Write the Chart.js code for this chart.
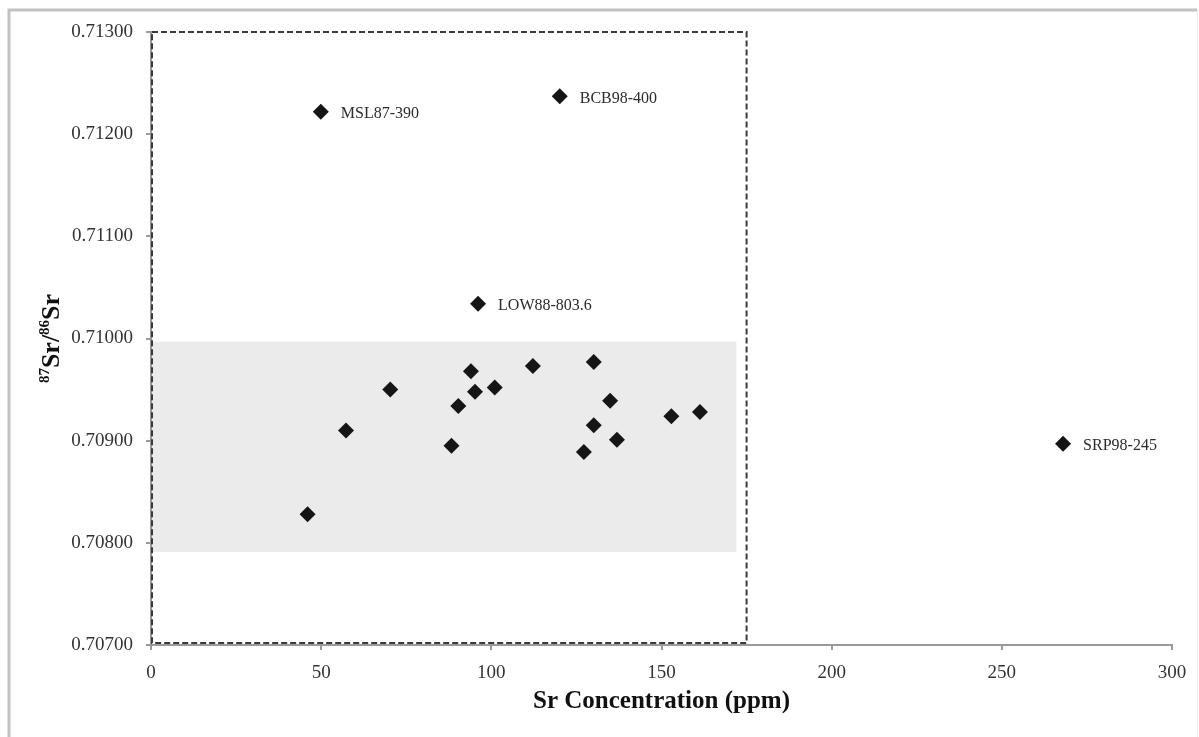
<!DOCTYPE html>
<html>
<head>
<meta charset="utf-8">
<script src="https://cdn.jsdelivr.net/npm/chart.js@4"></script>
<style>
  html, body { margin: 0; padding: 0; background: #fff; }
  #wrap { width: 1199px; height: 737px; }
</style>
</head>
<body>
<div id="wrap"><canvas id="srChart"></canvas></div>
<script>
// Sr concentration (ppm) and 87Sr/86Sr for the unlabelled samples
const srConc = [46.0, 57.3, 70.3, 88.3, 90.3, 94.0, 95.2, 101.0, 112.2, 127.2, 130.1, 130.1, 134.9, 136.9, 152.9, 161.3];
const srRatio = [0.70828, 0.70910, 0.70950, 0.70895, 0.70934, 0.70968, 0.70948, 0.70952, 0.70973, 0.70889, 0.70977, 0.70915, 0.70939, 0.70901, 0.70924, 0.70928];

// labelled outliers
const sampleNames = ['MSL87-390', 'BCB98-400', 'LOW88-803.6', 'SRP98-245'];
const sampleConc = [49.9, 120.1, 96.1, 268.0];
const sampleRatio = [0.71222, 0.71237, 0.71034, 0.70897];

// grey seawater band and dashed box
const bandX = [0, 172];
const bandY = [0.70791, 0.70997];
const boxX = [0, 175];
const boxY = [0.707, 0.713];

const xTicks = [0, 50, 100, 150, 200, 250, 300];
const yTicks = [0.707, 0.708, 0.709, 0.710, 0.711, 0.712, 0.713];

const serif = "'Liberation Serif', 'Times New Roman', serif";

const backdrop = {
  id: 'backdrop',
  beforeDraw(chart) {
    const ctx = chart.ctx;
    const x = chart.scales.x, y = chart.scales.y;
    ctx.save();
    // outer frame
    ctx.strokeStyle = '#c2c2c2';
    ctx.lineWidth = 3;
    ctx.beginPath();
    ctx.moveTo(9, 737);
    ctx.lineTo(9, 10);
    ctx.lineTo(1197, 10);
    ctx.stroke();
    ctx.strokeStyle = '#ececec';
    ctx.lineWidth = 1;
    ctx.beginPath();
    ctx.moveTo(1197.5, 10);
    ctx.lineTo(1197.5, 737);
    ctx.stroke();
    // grey band
    ctx.fillStyle = '#ebebeb';
    const bx0 = x.getPixelForValue(bandX[0]), bx1 = x.getPixelForValue(bandX[1]);
    const by0 = y.getPixelForValue(bandY[1]), by1 = y.getPixelForValue(bandY[0]);
    ctx.fillRect(bx0, by0, bx1 - bx0, by1 - by0);
    ctx.restore();
  },
  afterDatasetsDraw(chart) {
    const ctx = chart.ctx;
    const x = chart.scales.x, y = chart.scales.y;
    ctx.save();
    // dashed box
    ctx.strokeStyle = '#3a3a3a';
    ctx.lineWidth = 2;
    ctx.setLineDash([6, 3]);
    const rx0 = x.getPixelForValue(boxX[0]), rx1 = x.getPixelForValue(boxX[1]);
    const ry0 = y.getPixelForValue(boxY[1]), ry1 = y.getPixelForValue(boxY[0]);
    ctx.strokeRect(rx0 + 1, ry0, rx1 - rx0 - 1, ry1 - ry0 - 2);
    ctx.setLineDash([]);

    // sample labels
    const meta = chart.getDatasetMeta(1);
    ctx.fillStyle = '#2b2b2b';
    ctx.font = '16px ' + serif;
    ctx.textBaseline = 'middle';
    ctx.textAlign = 'left';
    meta.data.forEach((pt, i) => {
      ctx.fillText(sampleNames[i], pt.x + 20, pt.y + 2);
    });

    // y axis title with superscripts
    const cy = (chart.chartArea.top + chart.chartArea.bottom) / 2;
    const parts = [['87', true], ['Sr/', false], ['86', true], ['Sr', false]];
    const big = 'bold 26px ' + serif, small = 'bold 15px ' + serif;
    let total = 0;
    parts.forEach(p => { ctx.font = p[1] ? small : big; total += ctx.measureText(p[0]).width; });
    ctx.translate(50, cy);
    ctx.rotate(-Math.PI / 2);
    ctx.fillStyle = '#111';
    ctx.textBaseline = 'alphabetic';
    let cx = -total / 2;
    parts.forEach(p => {
      ctx.font = p[1] ? small : big;
      ctx.fillText(p[0], cx, p[1] ? -1 : 9);
      cx += ctx.measureText(p[0]).width;
    });
    ctx.restore();
  }
};

new Chart(document.getElementById('srChart'), {
  type: 'scatter',
  data: {
    datasets: [
      {
        label: 'samples',
        data: srConc.map((v, i) => ({ x: v, y: srRatio[i] })),
        pointStyle: 'rectRot',
        pointRadius: 8,
        pointHoverRadius: 8,
        backgroundColor: '#151515',
        borderColor: '#151515',
        borderWidth: 0
      },
      {
        label: 'labelled samples',
        data: sampleConc.map((v, i) => ({ x: v, y: sampleRatio[i] })),
        pointStyle: 'rectRot',
        pointRadius: 8,
        pointHoverRadius: 8,
        backgroundColor: '#151515',
        borderColor: '#151515',
        borderWidth: 0
      }
    ]
  },
  options: {
    responsive: true,
    maintainAspectRatio: false,
    animation: false,
    layout: { padding: { top: 32, right: 27, left: 0, bottom: 0 } },
    plugins: {
      legend: { display: false },
      tooltip: { enabled: false }
    },
    scales: {
      x: {
        type: 'linear',
        min: 0,
        max: 300,
        afterFit(scale) { scale.height = 92; },
        afterBuildTicks(scale) { scale.ticks = xTicks.map(v => ({ value: v })); },
        grid: { display: true, drawOnChartArea: false, drawTicks: true, tickLength: 5, color: '#9a9a9a', lineWidth: 2 },
        border: { display: true, color: '#9a9a9a', width: 2 },
        ticks: { color: '#333', padding: 12, font: { family: serif, size: 19 } },
        title: {
          display: true,
          text: 'Sr Concentration (ppm)',
          color: '#111',
          font: { family: serif, size: 25, weight: 'bold' },
          padding: { top: 0, bottom: 20 }
        }
      },
      y: {
        type: 'linear',
        min: 0.707,
        max: 0.713,
        afterFit(scale) { scale.width = 151; },
        afterBuildTicks(scale) { scale.ticks = yTicks.map(v => ({ value: v })); },
        grid: { display: true, drawOnChartArea: false, drawTicks: true, tickLength: 5, color: '#9a9a9a', lineWidth: 2 },
        border: { display: true, color: '#9a9a9a', width: 2 },
        ticks: {
          color: '#333',
          padding: 13,
          font: { family: serif, size: 19 },
          callback: v => v.toFixed(5)
        }
      }
    }
  },
  plugins: [backdrop]
});
</script>
</body>
</html>
